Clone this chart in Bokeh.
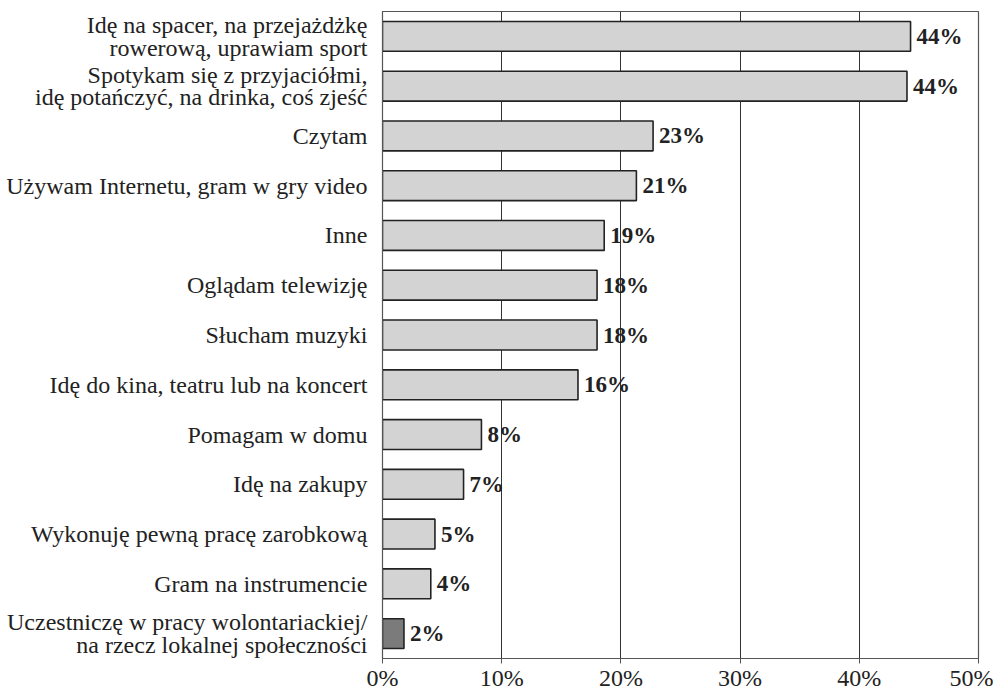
from bokeh.plotting import figure
from bokeh.models import FactorRange, ColumnDataSource, FixedTicker, CustomJSTickFormatter
from bokeh.core.properties import value
from bokeh.embed import file_html
from bokeh.resources import INLINE

categories = [
    "Idę na spacer, na przejażdżkę\nrowerową, uprawiam sport",
    "Spotykam się z przyjaciółmi,\nidę potańczyć, na drinka, coś zjeść",
    "Czytam",
    "Używam Internetu, gram w gry video",
    "Inne",
    "Oglądam telewizję",
    "Słucham muzyki",
    "Idę do kina, teatru lub na koncert",
    "Pomagam w domu",
    "Idę na zakupy",
    "Wykonuję pewną pracę zarobkową",
    "Gram na instrumencie",
    "Uczestniczę w pracy wolontariackiej/\nna rzecz lokalnej społeczności",
]
values = [44.3, 44.0, 22.7, 21.3, 18.6, 18.0, 18.0, 16.4, 8.3, 6.8, 4.4, 4.05, 1.8]
labels = ["44%", "44%", "23%", "21%", "19%", "18%", "18%", "16%", "8%", "7%", "5%", "4%", "2%"]
fills = ["#d3d3d3"] * 12 + ["#7b7b7b"]
x_ticks = [0, 10, 20, 30, 40, 50]

src = ColumnDataSource(dict(cat=categories, val=values, lab=labels, fill=fills))

p = figure(
    width=993, height=693,
    y_range=FactorRange(*list(reversed(categories)), range_padding=0),
    x_range=(0, 50),
    output_backend="svg", toolbar_location=None,
    min_border_left=382, min_border_right=15, min_border_top=11, min_border_bottom=34,
)
p.outline_line_color = "#555555"
p.outline_line_width = 1.2
p.background_fill_color = "white"
p.border_fill_color = "white"

p.hbar(y="cat", left=0, right="val", height=0.6, source=src,
       fill_color="fill", line_color="#222222", line_width=1.6)

p.text(x="val", y="cat", text="lab", source=src, x_offset=6,
       text_baseline="middle", text_align="left",
       text_font=value("Liberation Serif"), text_font_style="bold",
       text_font_size="23px", text_color="#222222")

p.xgrid.ticker = FixedTicker(ticks=x_ticks)
p.xgrid.grid_line_color = "#333333"
p.xgrid.grid_line_width = 1
p.ygrid.grid_line_color = None

p.xaxis.ticker = FixedTicker(ticks=x_ticks)
p.xaxis.formatter = CustomJSTickFormatter(code="return tick.toFixed(0) + '%';")
p.xaxis.axis_line_color = "#555555"
p.xaxis.major_tick_line_color = "#555555"
p.xaxis.major_tick_in = 0
p.xaxis.major_tick_out = 5
p.xaxis.minor_tick_line_color = None
p.xaxis.major_label_text_font = "Liberation Serif"
p.xaxis.major_label_text_font_size = "24px"
p.xaxis.major_label_text_color = "#222222"
p.xaxis.major_label_standoff = 1

p.yaxis.axis_line_color = "#555555"
p.yaxis.major_tick_line_color = None
p.yaxis.minor_tick_line_color = None
p.yaxis.major_label_text_font = "Liberation Serif"
p.yaxis.major_label_text_font_size = "24px"
p.yaxis.major_label_text_color = "#222222"
p.yaxis.major_label_text_line_height = 0.86
p.yaxis.major_label_standoff = 9

open("out.html", "w").write(file_html(p, INLINE))
